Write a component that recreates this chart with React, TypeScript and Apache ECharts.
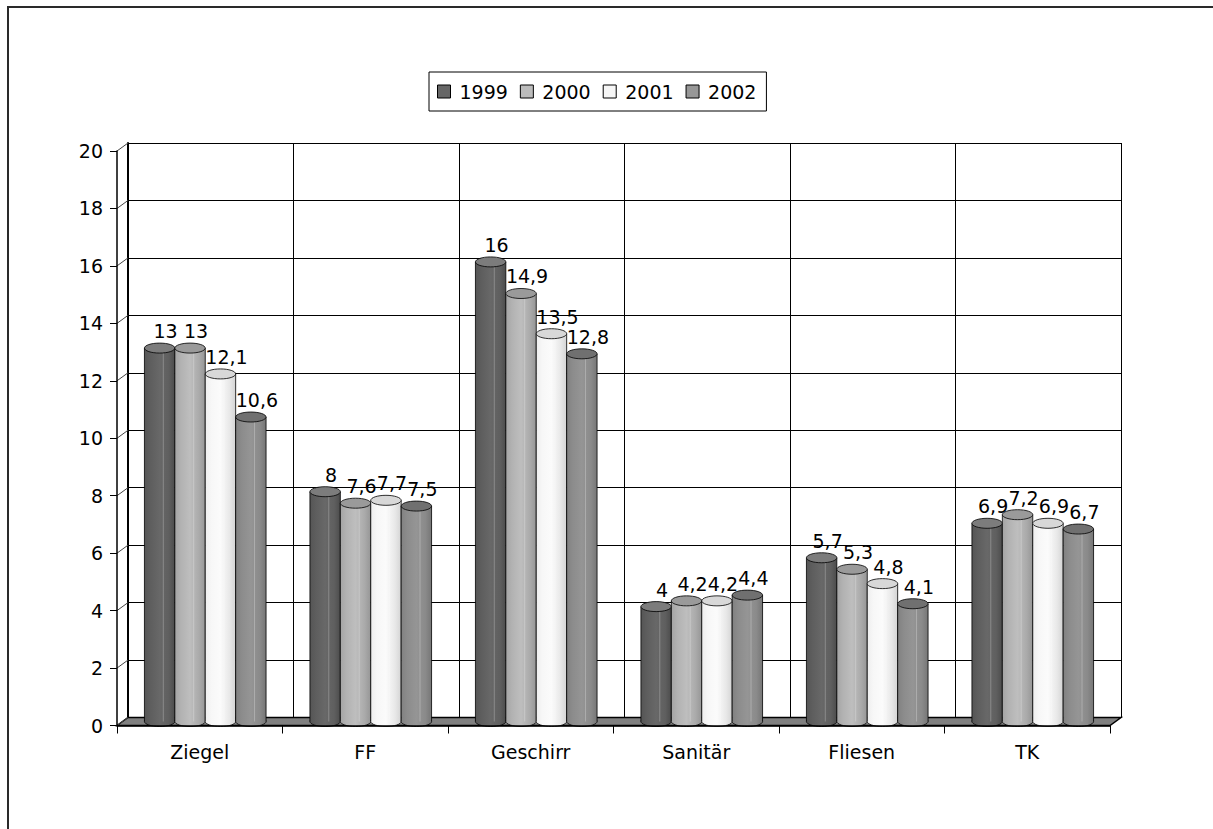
import React, { useEffect, useRef } from 'react';
import * as echarts from 'echarts';

const categories = ['Ziegel', 'FF', 'Geschirr', 'Sanitär', 'Fliesen', 'TK'];
const years = ['1999', '2000', '2001', '2002'];
const v1999 = [13, 8, 16, 4, 5.7, 6.9];
const v2000 = [13, 7.6, 14.9, 4.2, 5.3, 7.2];
const v2001 = [12.1, 7.7, 13.5, 4.2, 4.8, 6.9];
const v2002 = [10.6, 7.5, 12.8, 4.4, 4.1, 6.7];
const seriesValues = [v1999, v2000, v2001, v2002];
const yMin = 0;
const yMax = 20;
const yStep = 2;

const legendColors = ['#666666', '#bcbcbc', '#f6f6f6', '#979797'];
const topColors = ['#7c7c7c', '#9a9a9a', '#d8d8d8', '#707070'];
const bodyStops = [
  ['#555555', '#5e5e5e', '#686868', '#5f5f5f', '#4c4c4c'],
  ['#a4a4a4', '#b2b2b2', '#bebebe', '#aaaaaa', '#969696'],
  ['#eeeeee', '#f7f7f7', '#fbfbfb', '#e8e8e8', '#d4d4d4'],
  ['#818181', '#8c8c8c', '#959595', '#8a8a8a', '#767676'],
];

const FONT = '"DejaVu Sans", "Open Sans", sans-serif';
const FS = 19;
const FRONT = { left: 117, top: 151, width: 993, height: 574.5 };
const DX = 11;
const DY = -8;

function fmt(v: number) {
  return String(v).replace('.', ',');
}

export default function App() {
  const ref = useRef<HTMLDivElement>(null);
  useEffect(() => {
    if (!ref.current) return;
    const chart = echarts.init(ref.current, undefined, { renderer: 'svg' });

    const makeRender = (sIdx: number) => (params: any, api: any) => {
      const cat = api.value(0);
      const val = api.value(1);
      const band = api.size([1, 0])[0];
      const bw = (band * 0.735) / 4;
      const top = api.coord([cat, val]);
      const base = api.coord([cat, 0]);
      const cx = top[0] + (sIdx - 1.5) * bw + DX / 2;
      const yT = top[1] + DY / 2;
      const yB = base[1] + DY / 2;
      const x0 = cx - bw / 2;
      const ry = 5;
      const s = bodyStops[sIdx];
      const grad = {
        type: 'linear', x: 0, y: 0, x2: 1, y2: 0,
        colorStops: [
          { offset: 0, color: s[0] },
          { offset: 0.2, color: s[1] },
          { offset: 0.5, color: s[2] },
          { offset: 0.8, color: s[3] },
          { offset: 1, color: s[4] },
        ],
      };
      return {
        type: 'group',
        children: [
          {
            type: 'ellipse',
            shape: { cx, cy: yB, rx: bw / 2, ry },
            style: { fill: grad, stroke: '#000', lineWidth: 0.8 },
          },
          {
            type: 'rect',
            shape: { x: x0, y: yT, width: bw, height: yB - yT },
            style: { fill: grad, stroke: 'none' },
          },
          {
            type: 'line',
            shape: { x1: x0, y1: yT, x2: x0, y2: yB },
            style: { stroke: '#000', lineWidth: 0.8 },
          },
          {
            type: 'line',
            shape: { x1: x0 + bw, y1: yT, x2: x0 + bw, y2: yB },
            style: { stroke: '#000', lineWidth: 0.8 },
          },
          {
            type: 'line',
            shape: { x1: x0 + bw * 0.62, y1: yT + ry, x2: x0 + bw * 0.62, y2: yB },
            style: { stroke: 'rgba(255,255,255,0.25)', lineWidth: 1 },
          },
          {
            type: 'ellipse',
            shape: { cx, cy: yT, rx: bw / 2, ry },
            style: { fill: topColors[sIdx], stroke: '#000', lineWidth: 0.8 },
          },
          {
            type: 'text',
            style: {
              text: fmt(val),
              x: cx + 6,
              y: yT - 17,
              align: 'center',
              verticalAlign: 'middle',
              fill: '#000',
              font: FS + 'px ' + FONT,
            },
          },
        ],
      };
    };

    const gridLines: any[] = [];
    for (let v = yMin; v <= yMax; v += yStep) {
      const y = FRONT.top + FRONT.height * (1 - (v - yMin) / (yMax - yMin));
      gridLines.push({
        type: 'line',
        z: 1,
        shape: { x1: FRONT.left, y1: y, x2: FRONT.left + DX, y2: y + DY },
        style: { stroke: '#444', lineWidth: 1 },
      });
    }
    const fy = FRONT.top + FRONT.height;
    const floor = {
      type: 'polygon',
      z: 1,
      shape: {
        points: [
          [FRONT.left, fy],
          [FRONT.left + DX, fy + DY],
          [FRONT.left + FRONT.width + DX, fy + DY],
          [FRONT.left + FRONT.width, fy],
        ],
      },
      style: { fill: '#808080', stroke: '#000', lineWidth: 1.5 },
    };
    const frame = {
      type: 'rect',
      z: 0,
      shape: { x: 8, y: 7, width: 1400, height: 1000 },
      style: { fill: 'none', stroke: '#2a2a2a', lineWidth: 2 },
    };

    chart.setOption({
      animation: false,
      backgroundColor: '#fff',
      textStyle: { fontFamily: FONT },
      legend: {
        data: years,
        left: 429,
        top: 72,
        padding: [10, 10, 10, 8],
        itemGap: 12,
        itemWidth: 13,
        itemHeight: 13,
        icon: 'rect',
        borderColor: '#000',
        borderWidth: 1,
        itemStyle: { borderColor: '#000', borderWidth: 1 },
        textStyle: { fontSize: FS, color: '#000', fontFamily: FONT, padding: [0, 0, 0, 4] },
      },
      grid: [
        { left: FRONT.left, top: FRONT.top, width: FRONT.width, height: FRONT.height },
        { left: FRONT.left + DX, top: FRONT.top + DY, width: FRONT.width, height: FRONT.height },
      ],
      xAxis: [
        {
          type: 'category',
          gridIndex: 0,
          data: categories,
          z: 5,
          axisLine: { show: true, lineStyle: { color: '#000', width: 1.5 } },
          axisTick: { show: true, length: 8, lineStyle: { color: '#000' } },
          axisLabel: { color: '#000', fontSize: FS, margin: 17, fontFamily: FONT },
          splitLine: { show: false },
        },
        {
          type: 'category',
          gridIndex: 1,
          data: categories,
          axisLine: { show: false },
          axisTick: { show: false },
          axisLabel: { show: false },
          splitLine: { show: true, lineStyle: { color: '#000', width: 1 } },
        },
      ],
      yAxis: [
        {
          type: 'value',
          gridIndex: 0,
          min: yMin,
          max: yMax,
          interval: yStep,
          z: 5,
          axisLine: { show: true, lineStyle: { color: '#000', width: 1.5 } },
          axisTick: { show: true, length: 7, lineStyle: { color: '#000' } },
          axisLabel: { color: '#000', fontSize: FS, margin: 14, fontFamily: FONT },
          splitLine: { show: false },
        },
        {
          type: 'value',
          gridIndex: 1,
          min: yMin,
          max: yMax,
          interval: yStep,
          axisLine: { show: true, lineStyle: { color: '#000', width: 2 } },
          axisTick: { show: false },
          axisLabel: { show: false },
          splitLine: { show: true, lineStyle: { color: '#000', width: 1 } },
        },
      ],
      graphic: [frame, floor, ...gridLines],
      series: years.map((name, i) => ({
        name,
        type: 'custom',
        xAxisIndex: 0,
        yAxisIndex: 0,
        z: 3,
        itemStyle: { color: legendColors[i], borderColor: '#000', borderWidth: 1 },
        renderItem: makeRender(i),
        data: seriesValues[i].map((v, c) => [c, v]),
      })),
    });
    return () => chart.dispose();
  }, []);
  return (
    <div
      ref={ref}
      style={{ position: 'absolute', left: 0, top: 0, width: 1213, height: 829 }}
    />
  );
}
